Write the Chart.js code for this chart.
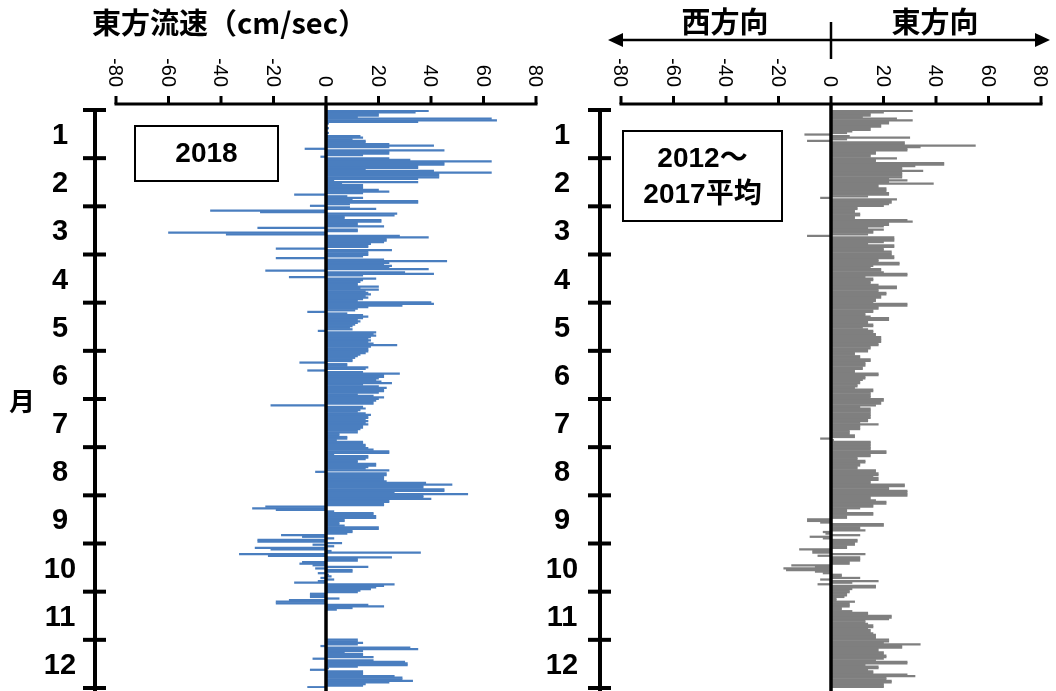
<!DOCTYPE html>
<html>
<head>
<meta charset="utf-8">
<script src="https://cdn.jsdelivr.net/npm/chart.js@4/dist/chart.umd.min.js"></script>
<style>
  html, body { margin: 0; padding: 0; background: #fff; }
  #wrap { position: relative; width: 1056px; height: 691px; overflow: hidden; background: #fff; }
  canvas { position: absolute; top: 0; }
  #flowLeft { left: 0; }
  #flowRight { left: 520px; }
</style>
</head>
<body>
<div id="wrap">
  <canvas id="flowLeft" width="560" height="691"></canvas>
  <canvas id="flowRight" width="536" height="691"></canvas>
</div>
<script>
// Daily eastward current speed (cm/sec), Jan 1 .. Dec 31, one line per month.
const flow2018 = [
  39,34,20,20,12,63,65,35,1,0,0,1,0,0,1,0,13,14,10,15,15,24,41,24,-8,45,24,24,14,-2,24,
  32,63,45,45,35,35,15,41,63,43,43,43,35,3,35,6,14,14,14,20,24,14,-12,8,14,10,35,35,
  9,-6,9,19,-44,-25,27,26,7,7,21,21,12,12,22,-26,12,12,-60,-38,28,39,23,23,22,17,16,16,-19,25,16,
  16,16,14,-19,22,46,24,22,25,24,39,-23,30,41,14,-14,19,14,13,12,12,20,13,20,15,16,17,15,16,14,
  12,40,41,29,16,12,11,-7,8,14,16,14,12,13,12,11,10,9,10,-3,19,18,19,17,16,17,16,18,27,17,16,
  16,16,15,13,12,11,10,10,-10,8,8,16,15,-7,14,28,22,22,20,19,21,25,14,20,23,22,22,20,12,18,
  22,20,19,18,18,-21,14,15,13,12,15,17,16,16,15,16,15,16,14,14,13,12,12,5,5,8,8,4,14,14,15,
  15,16,18,24,24,3,16,16,15,12,12,19,19,16,15,24,-4,23,23,22,22,22,23,38,48,37,37,45,45,26,54,
  37,37,40,24,24,22,22,-23,-28,-19,3,18,18,19,19,7,7,5,5,7,20,20,10,10,8,-17,-9,3,-26,-26,
  6,-5,3,-27,-21,2,36,-33,-22,25,12,12,-9,-10,-5,16,-4,10,10,-3,1,2,-2,3,-3,-12,26,22,19,17,13,
  12,-6,-6,-6,5,-14,-19,-19,16,22,10,4,null,null,null,null,null,null,null,null,null,null,null,null,null,null,null,null,null,null,
  12,12,14,12,-2,32,35,14,7,14,14,18,-5,18,30,31,31,12,1,-6,14,14,14,26,29,29,33,24,15,14,-7
];

const flowAvg = [
  31,20,15,15,12,25,31,22,22,19,19,15,15,8,6,-10,7,30,6,-9,28,28,55,34,29,29,17,17,15,15,25,
  17,17,43,43,32,27,27,35,27,27,27,27,22,29,22,39,18,18,21,21,21,22,22,14,-4,25,23,23,
  22,20,10,10,9,9,11,11,9,9,29,31,22,22,20,14,20,16,16,14,-9,24,24,24,20,14,24,24,20,20,23,
  23,23,24,24,18,18,26,26,16,15,19,19,20,29,29,13,16,16,15,15,18,25,25,18,18,21,21,19,19,17,
  17,16,29,29,18,18,16,16,13,13,15,22,22,14,14,16,16,12,14,16,16,17,17,19,19,19,19,18,18,15,15,
  14,14,9,9,11,11,15,15,13,13,13,12,12,9,9,18,18,13,13,12,11,11,10,10,9,16,16,15,15,15,
  15,20,20,19,19,17,11,15,15,15,15,15,15,15,14,14,11,18,11,11,11,7,7,7,9,9,-4,1,15,15,15,
  15,15,15,21,21,15,15,10,10,13,13,11,11,10,10,17,17,18,18,16,18,18,15,15,28,28,22,22,29,29,29,
  29,15,15,17,21,21,16,16,11,6,6,16,16,6,6,-9,-9,-4,20,20,11,11,13,-3,-2,11,-8,-3,10,10,
  9,9,6,6,-12,-7,-7,13,-5,11,11,11,7,7,-15,-6,-18,-17,-6,-3,4,4,11,-4,18,8,-5,17,17,8,7,
  7,6,6,5,2,2,9,7,7,7,4,4,8,14,14,23,23,22,13,13,14,16,16,14,15,15,16,17,17,17,
  22,22,20,34,27,27,18,18,20,20,21,21,20,17,29,29,13,18,18,14,16,16,29,32,21,21,23,23,20,20,20
];

const monthLabels = ['1','2','3','4','5','6','7','8','9','10','11','12'];
const speedTicks = [-80,-60,-40,-20,0,20,40,60,80];
const dayLabels = flow2018.map((_, i) => String(i + 1));

const LATIN = '"Liberation Sans", Arial, sans-serif';
const CJK = '"Noto Sans CJK JP", "Noto Sans CJK SC", sans-serif';
const MIXED = '"Liberation Sans", "Noto Sans CJK JP", sans-serif';
const AXIS_TOP = 104;

// Draws the axes, month ticks, labels and annotation boxes around one panel.
function panelDecor(p) {
  return {
    id: 'panelDecor',
    afterDatasetsDraw(chart) {
      const ctx = chart.ctx;
      const xs = chart.scales.x, ys = chart.scales.y;
      const H = chart.height;
      ctx.save();
      ctx.strokeStyle = '#000';
      ctx.fillStyle = '#000';

      // zero line
      const x0 = xs.getPixelForValue(0);
      ctx.lineWidth = 3.5;
      ctx.beginPath(); ctx.moveTo(x0, AXIS_TOP); ctx.lineTo(x0, H); ctx.stroke();

      // top value axis with upward ticks
      const xa = xs.getPixelForValue(speedTicks[0]);
      const xb = xs.getPixelForValue(speedTicks[speedTicks.length - 1]);
      ctx.lineWidth = 3;
      ctx.beginPath(); ctx.moveTo(xa - 1.5, AXIS_TOP); ctx.lineTo(xb + 1.5, AXIS_TOP); ctx.stroke();
      speedTicks.forEach(v => {
        const x = xs.getPixelForValue(v);
        ctx.beginPath(); ctx.moveTo(x, AXIS_TOP); ctx.lineTo(x, AXIS_TOP - 8); ctx.stroke();
        ctx.save();
        ctx.translate(x, 87);
        ctx.rotate(Math.PI / 2);
        ctx.font = '20px ' + LATIN;
        ctx.textAlign = 'right';
        ctx.textBaseline = 'middle';
        ctx.fillText(String(v), 0, 1);
        ctx.restore();
      });

      // month axis
      const ax = p.axisX;
      ctx.lineWidth = 4;
      const yTop = ys.getPixelForValue(-0.5);
      ctx.beginPath(); ctx.moveTo(ax, yTop - 2); ctx.lineTo(ax, H); ctx.stroke();
      const n = flow2018.length;
      for (let k = 0; k <= 12; k++) {
        const y = ys.getPixelForValue(k * n / 12 - 0.5);
        ctx.beginPath(); ctx.moveTo(ax - 12, y); ctx.lineTo(ax + 11, y); ctx.stroke();
      }
      ctx.font = 'bold 29px ' + LATIN;
      ctx.textAlign = 'center';
      ctx.textBaseline = 'middle';
      monthLabels.forEach((m, k) => {
        const y = ys.getPixelForValue((k + 0.5) * n / 12 - 0.5);
        ctx.fillText(m, p.labelX, y + 2);
      });

      // annotation box
      const b = p.box;
      ctx.fillStyle = '#fff';
      ctx.fillRect(b.x, b.y, b.w, b.h);
      ctx.fillStyle = '#000';
      ctx.lineWidth = 2;
      ctx.strokeRect(b.x, b.y, b.w, b.h);
      ctx.font = 'bold 28px ' + MIXED;
      b.lines.forEach((t, i) => {
        ctx.fillText(t, b.x + b.w / 2, b.y + b.h / 2 + (i - (b.lines.length - 1) / 2) * 36 + 1);
      });

      if (p.extra) p.extra(ctx, xs);
      ctx.restore();
    }
  };
}

function makePanel(id, values, color, p) {
  return new Chart(document.getElementById(id), {
    type: 'bar',
    data: {
      labels: dayLabels,
      datasets: [{
        data: values,
        backgroundColor: color,
        borderWidth: 0,
        barPercentage: 1,
        categoryPercentage: 1
      }]
    },
    options: {
      indexAxis: 'y',
      responsive: false,
      animation: false,
      events: [],
      layout: { padding: { left: p.padL, right: p.padR, top: 110, bottom: 3 } },
      scales: {
        x: { type: 'linear', min: -80, max: 80, display: false },
        y: { display: false, offset: true }
      },
      plugins: { legend: { display: false }, tooltip: { enabled: false } }
    },
    plugins: [panelDecor(p)]
  });
}

makePanel('flowLeft', flow2018, '#4a7ebf', {
  padL: 116, padR: 24, axisX: 95, labelX: 60,
  box: { x: 135, y: 126, w: 143, h: 55, lines: ['2018'] },
  extra(ctx) {
    ctx.font = 'bold 29px ' + CJK;
    ctx.textAlign = 'left';
    ctx.textBaseline = 'middle';
    ctx.fillText('東方流速（cm/sec）', 92, 23);
    ctx.textAlign = 'center';
    ctx.font = 'bold 26px ' + CJK;
    ctx.fillText('月', 22, 401);
  }
});

makePanel('flowRight', flowAvg, '#7f7f7f', {
  padL: 101, padR: 15, axisX: 80, labelX: 42,
  box: { x: 103, y: 131, w: 159, h: 90, lines: ['2012～', '2017平均'] },
  extra(ctx, xs) {
    const x0 = xs.getPixelForValue(0);
    const yA = 40;
    const xl = 88, xr = 530;
    ctx.lineWidth = 2.5;
    ctx.beginPath(); ctx.moveTo(xl + 10, yA); ctx.lineTo(xr - 10, yA); ctx.stroke();
    ctx.beginPath(); ctx.moveTo(xl, yA); ctx.lineTo(xl + 15, yA - 7); ctx.lineTo(xl + 15, yA + 7); ctx.closePath(); ctx.fill();
    ctx.beginPath(); ctx.moveTo(xr, yA); ctx.lineTo(xr - 15, yA - 7); ctx.lineTo(xr - 15, yA + 7); ctx.closePath(); ctx.fill();
    ctx.lineWidth = 2.5;
    ctx.beginPath(); ctx.moveTo(x0, 22); ctx.lineTo(x0, 59); ctx.stroke();
    ctx.font = 'bold 29px ' + CJK;
    ctx.textAlign = 'center';
    ctx.textBaseline = 'middle';
    ctx.fillText('西方向', 205, 22);
    ctx.fillText('東方向', 415, 22);
  }
});
</script>
</body>
</html>
